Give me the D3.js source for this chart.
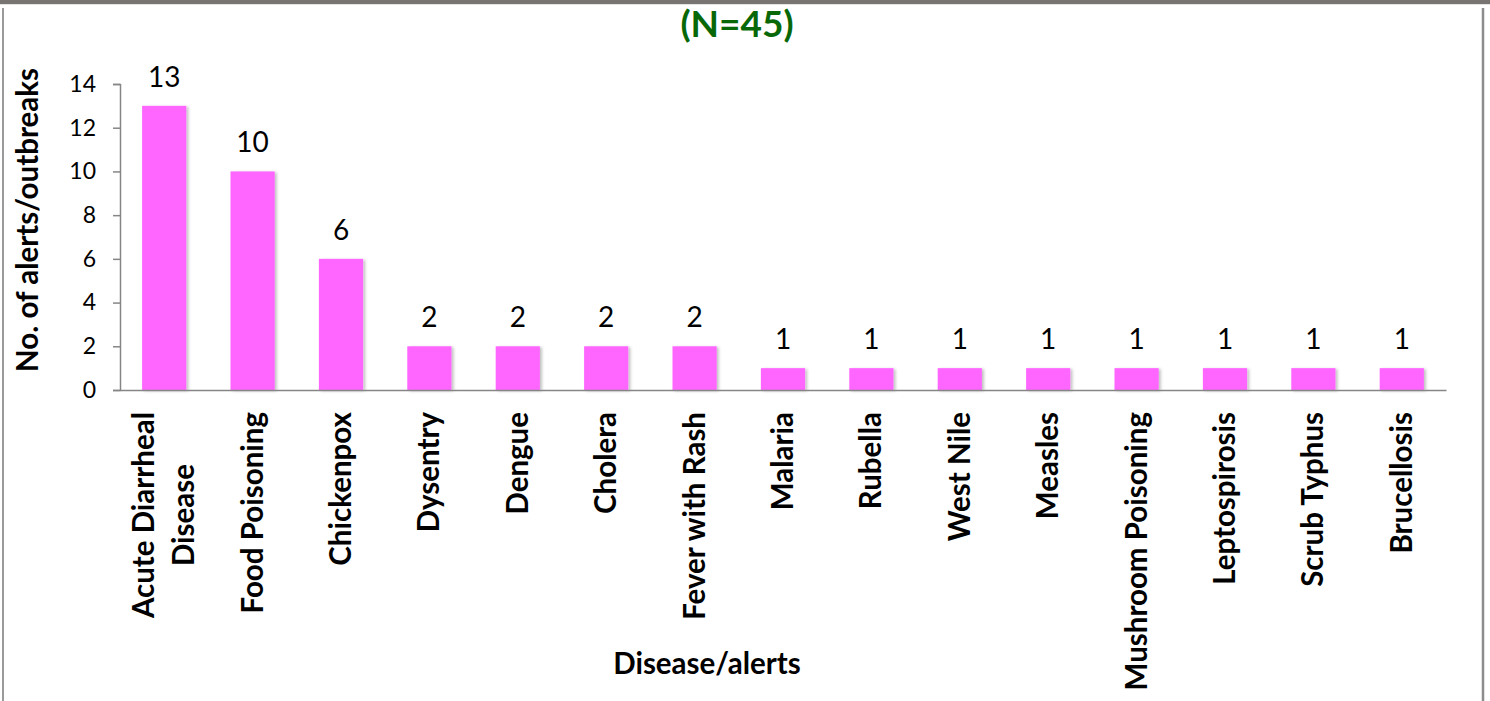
<!DOCTYPE html>
<html>
<head>
<meta charset="utf-8">
<script src="https://cdn.jsdelivr.net/npm/d3@7"></script>
<style>
  body { margin: 0; background: #fff; }
  svg { display: block; font-family: Lato, 'Open Sans', sans-serif; }
</style>
</head>
<body>
<svg id="chart"></svg>
<script>
const diseases = ['Acute Diarrheal Disease', 'Food Poisoning', 'Chickenpox', 'Dysentry', 'Dengue', 'Cholera',
  'Fever with Rash', 'Malaria', 'Rubella', 'West Nile', 'Measles', 'Mushroom Poisoning',
  'Leptospirosis', 'Scrub Typhus', 'Brucellosis'];
const alerts = [13, 10, 6, 2, 2, 2, 2, 1, 1, 1, 1, 1, 1, 1, 1];
const labelLines = [['Acute Diarrheal', 'Disease']];
const yTicks = [0, 2, 4, 6, 8, 10, 12, 14];
const title = '(N=45)';

const width = 1490;
const height = 701;
const margin = { top: 84, right: 44, bottom: 311, left: 120 };

const svg = d3.select('#chart').attr('width', width).attr('height', height);

// cadre de la page
svg.append('rect').attr('x', 0).attr('y', 0).attr('width', width).attr('height', 4).attr('fill', '#787472');
svg.append('line').attr('x1', 0).attr('x2', width).attr('y1', 4.5).attr('y2', 4.5).attr('stroke', '#e4e4e4');
svg.append('line').attr('x1', 3).attr('x2', 3).attr('y1', 8).attr('y2', height).attr('stroke', '#9a9a9a').attr('stroke-width', 2);
svg.append('line').attr('x1', 1483).attr('x2', 1483).attr('y1', 8).attr('y2', height).attr('stroke', '#8c8c8c').attr('stroke-width', 2.5);

const defs = svg.append('defs');
const f = defs.append('filter').attr('id', 'shadow').attr('x', '-20%').attr('y', '-20%').attr('width', '140%').attr('height', '140%');
f.append('feDropShadow').attr('dx', 2).attr('dy', 1).attr('stdDeviation', 1.5).attr('flood-color', '#000').attr('flood-opacity', 0.25);

const xScale = d3.scaleBand()
  .domain(diseases)
  .range([margin.left, width - margin.right])
  .paddingInner(0.5)
  .paddingOuter(0.25);

const yScale = d3.scaleLinear()
  .domain([0, 14])
  .range([height - margin.bottom, margin.top]);

// titre
svg.append('text')
  .attr('x', 737).attr('y', 37)
  .attr('text-anchor', 'middle')
  .attr('font-size', 37).attr('font-weight', 700)
  .attr('fill', '#086808')
  .text(title);

// barres
svg.selectAll('rect.bar')
  .data(alerts)
  .enter()
  .append('rect')
  .attr('class', 'bar')
  .attr('x', (_, i) => xScale(diseases[i]))
  .attr('y', (d) => yScale(d))
  .attr('width', xScale.bandwidth())
  .attr('height', (d) => yScale(0) - yScale(d))
  .attr('fill', '#ff66ff')
  .attr('filter', 'url(#shadow)');

// valeurs
svg.selectAll('text.val')
  .data(alerts)
  .enter()
  .append('text')
  .attr('class', 'val')
  .attr('x', (_, i) => xScale(diseases[i]) + xScale.bandwidth() / 2)
  .attr('y', (d) => yScale(d) - 19)
  .attr('text-anchor', 'middle')
  .attr('font-size', 28)
  .attr('fill', '#000')
  .text((d) => d);

// axe y
const yAxis = svg.append('g')
  .attr('transform', `translate(${margin.left},0)`)
  .call(d3.axisLeft(yScale).tickValues(yTicks).tickSize(7).tickPadding(17));
yAxis.select('.domain').attr('stroke', '#868686').attr('stroke-width', 1.5);
yAxis.selectAll('.tick line').attr('stroke', '#868686').attr('stroke-width', 1.5);
yAxis.selectAll('.tick text').attr('font-size', 23).attr('fill', '#000').attr('font-family', 'Lato');

// axe x
const xAxis = svg.append('g')
  .attr('transform', `translate(0,${yScale(0)})`)
  .call(d3.axisBottom(xScale).tickSize(0).tickFormat(''));
xAxis.select('.domain').attr('stroke', '#868686').attr('stroke-width', 1.5);

const labels = svg.append('g');
diseases.forEach((name) => {
  const found = labelLines.find((l) => l.join(' ') === name);
  const lines = found || [name];
  const cx = xScale(name) + xScale.bandwidth() / 2;
  const g = labels.append('g').attr('transform', `translate(${cx},412) rotate(-90)`);
  const t = g.append('text')
    .attr('font-size', 29.5).attr('font-weight', 700).attr('fill', '#000');
  const spacing = 40;
  const off = -((lines.length - 1) * spacing) / 2;
  lines.forEach((ln, j) => {
    t.append('tspan').attr('x', 0).attr('y', off + j * spacing + 10).text(ln);
  });
  // centrer les lignes sous la plus longue
  let longest = 0;
  t.selectAll('tspan').each(function () { longest = Math.max(longest, this.getComputedTextLength()); });
  t.attr('text-anchor', 'middle');
  t.selectAll('tspan').attr('x', -longest / 2);
});

// titres des axes
svg.append('text')
  .attr('x', 707).attr('y', 674)
  .attr('text-anchor', 'middle')
  .attr('font-size', 29.5).attr('font-weight', 700)
  .text('Disease/alerts');

svg.append('text')
  .attr('transform', 'translate(38,220) rotate(-90)')
  .attr('text-anchor', 'middle')
  .attr('font-size', 29.5).attr('font-weight', 700)
  .text('No. of alerts/outbreaks');
</script>
</body>
</html>
